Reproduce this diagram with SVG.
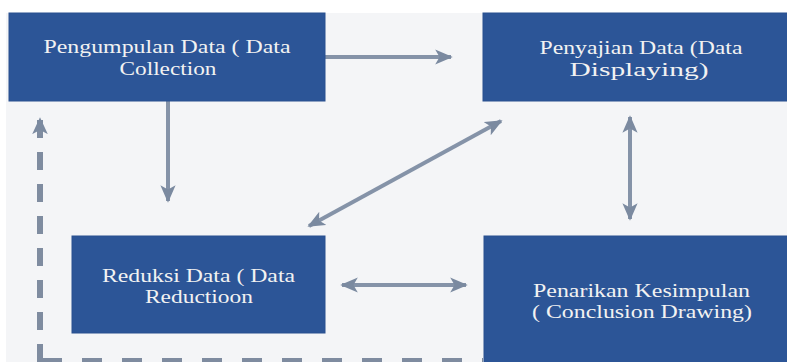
<svg xmlns="http://www.w3.org/2000/svg" width="787" height="362" viewBox="0 0 787 362">
<style>
.box{fill:#2c5597;stroke:#28508f;stroke-width:1}
.t{font-family:"Liberation Serif","Times New Roman",serif;font-size:18px;fill:#f2f2f2;text-anchor:middle}
.c{stroke:#8593a8;stroke-width:4;fill:none}
.d{stroke:#7f8ca0;stroke-width:6;fill:none}
</style>
<defs>
<marker id="ah" viewBox="0 0 10 10" refX="9" refY="5" markerWidth="4.4" markerHeight="3.8" orient="auto-start-reverse" markerUnits="strokeWidth" preserveAspectRatio="none">
<path d="M0,0 L10,5 L0,10 L2.5,5 Z" fill="#7b8aa0"/>
</marker>
<marker id="ahd" viewBox="0 0 10 10" refX="9" refY="5" markerWidth="2.8" markerHeight="2.6" orient="auto" markerUnits="strokeWidth" preserveAspectRatio="none">
<path d="M0,0 L10,5 L0,10 L2.5,5 Z" fill="#7b8aa0"/>
</marker>
</defs>
<rect x="0" y="0" width="787" height="362" fill="#ffffff"/>
<rect x="6" y="13" width="781" height="349" fill="#f4f5f7"/>
<g id="connectors">
<line class="c" x1="325" y1="57" x2="451" y2="57" marker-end="url(#ah)"/>
<line class="c" x1="168" y1="101" x2="168" y2="201" marker-end="url(#ah)"/>
<line class="c" x1="309" y1="226" x2="501" y2="121" marker-start="url(#ah)" marker-end="url(#ah)"/>
<line class="c" x1="630" y1="117" x2="630" y2="219" marker-start="url(#ah)" marker-end="url(#ah)"/>
<line class="c" x1="342" y1="285" x2="466" y2="285" marker-start="url(#ah)" marker-end="url(#ah)"/>
<line class="d" x1="40" y1="362" x2="40" y2="119" stroke-dasharray="18 14" marker-end="url(#ahd)"/>
<line class="d" x1="40" y1="361" x2="483" y2="361" stroke-dasharray="20 20" stroke-dashoffset="-2"/>
</g>
<g id="n1">
<rect class="box" x="9" y="13" width="316" height="88"/>
<text class="t" x="167" y="53" textLength="247" lengthAdjust="spacingAndGlyphs">Pengumpulan Data ( Data</text>
<text class="t" x="168" y="75" textLength="97" lengthAdjust="spacingAndGlyphs">Collection</text>
</g>
<g id="n2">
<rect class="box" x="483" y="13" width="310" height="88"/>
<text class="t" x="641" y="54" textLength="203" lengthAdjust="spacingAndGlyphs">Penyajian Data (Data</text>
<text class="t" x="639" y="76" textLength="139" lengthAdjust="spacingAndGlyphs">Displaying)</text>
</g>
<g id="n3">
<rect class="box" x="72" y="236" width="253" height="97"/>
<text class="t" x="198.5" y="282" textLength="193" lengthAdjust="spacingAndGlyphs">Reduksi Data ( Data</text>
<text class="t" x="199" y="303" textLength="108" lengthAdjust="spacingAndGlyphs">Reductioon</text>
</g>
<g id="n4">
<rect class="box" x="484" y="236" width="310" height="130"/>
<text class="t" x="641.5" y="297" textLength="217" lengthAdjust="spacingAndGlyphs">Penarikan Kesimpulan</text>
<text class="t" x="642" y="318" textLength="220" lengthAdjust="spacingAndGlyphs">( Conclusion Drawing)</text>
</g>
</svg>
